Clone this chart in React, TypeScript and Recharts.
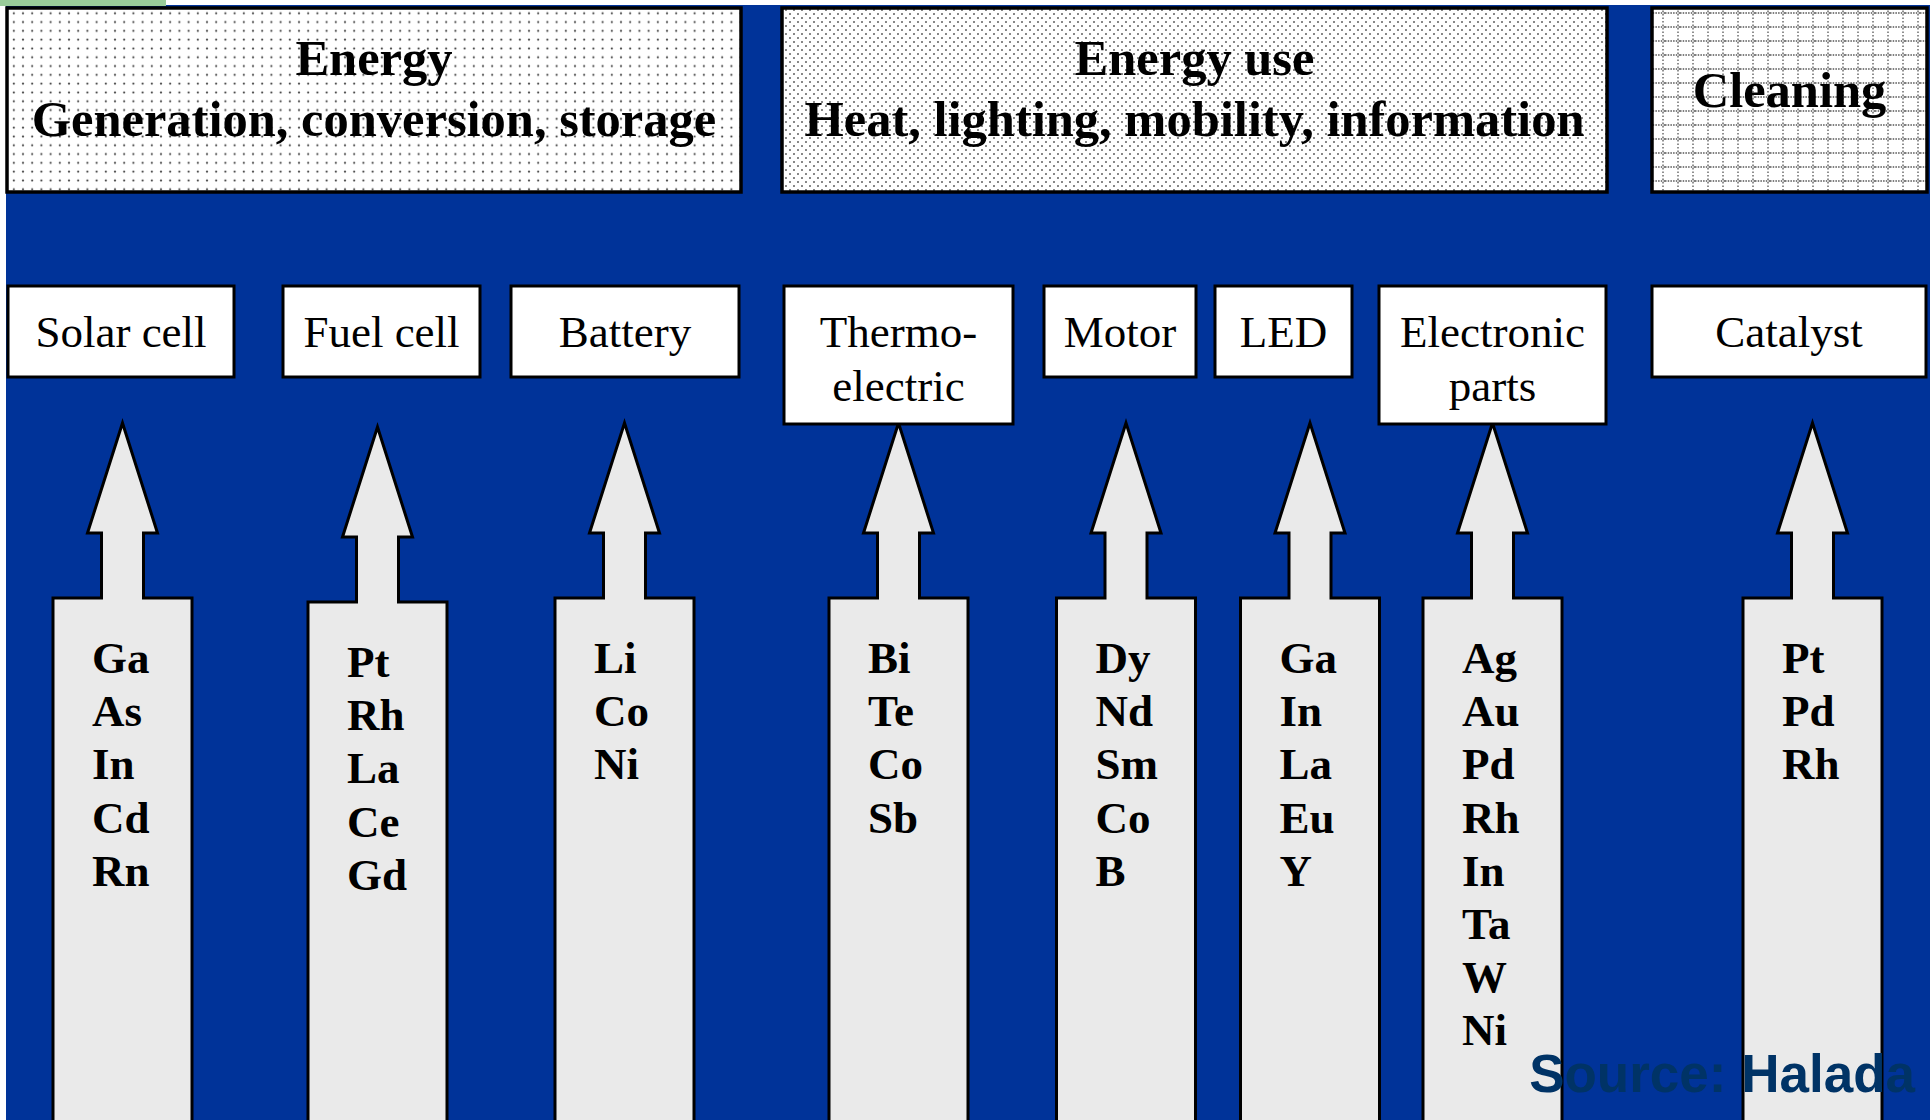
import React from 'react';
import { ScatterChart, Scatter, XAxis, YAxis, ReferenceArea } from 'recharts';

// ---------- data ----------
const groupTitles = ['Energy', 'Energy use', 'Cleaning'];
const groupSubtitles = ['Generation, conversion, storage', 'Heat, lighting, mobility, information', ''];

const applicationLabels: string[][] = [
  ['Solar cell'],
  ['Fuel cell'],
  ['Battery'],
  ['Thermo-', 'electric'],
  ['Motor'],
  ['LED'],
  ['Electronic', 'parts'],
  ['Catalyst'],
];

const applicationElements: string[][] = [
  ['Ga', 'As', 'In', 'Cd', 'Rn'],
  ['Pt', 'Rh', 'La', 'Ce', 'Gd'],
  ['Li', 'Co', 'Ni'],
  ['Bi', 'Te', 'Co', 'Sb'],
  ['Dy', 'Nd', 'Sm', 'Co', 'B'],
  ['Ga', 'In', 'La', 'Eu', 'Y'],
  ['Ag', 'Au', 'Pd', 'Rh', 'In', 'Ta', 'W', 'Ni'],
  ['Pt', 'Pd', 'Rh'],
];

const sourceText = 'Source: Halada';

// ---------- layout (chart units = pixels) ----------
const W = 1930;
const H = 1120;
const headerSpans = [[7, 741], [782, 1607], [1652, 1927]];
const headerTop = 8;
const headerBottom = 192;
const boxSpans = [[8, 234], [283, 480], [511, 739], [784, 1013], [1044, 1196], [1215, 1352], [1379, 1606], [1652, 1926]];
const boxTop = 286;
const columnCenters = [122.5, 377.5, 624.5, 898.5, 1126, 1310, 1492.5, 1812.5];
const arrowShift = [0, 4, 0, 0, 0, 0, 0, 0];
const arrowTip = 423;

const BLUE = '#003399';
const SERIF = '"Liberation Serif", "Times New Roman", serif';

const headerData = groupTitles.map((t, i) => ({
  x: headerSpans[i][0],
  y: headerTop,
  w: headerSpans[i][1] - headerSpans[i][0],
  h: headerBottom - headerTop,
  title: t,
  sub: groupSubtitles[i],
  idx: i,
}));

const boxData = applicationLabels.map((lines, i) => ({
  x: boxSpans[i][0],
  y: boxTop,
  w: boxSpans[i][1] - boxSpans[i][0],
  h: lines.length > 1 ? 138 : 91,
  lines,
}));

const arrowData = applicationElements.map((els, i) => ({
  x: columnCenters[i],
  y: arrowTip + arrowShift[i],
  els,
}));

const sourceData = [{ x: 1915, y: 1092, text: sourceText }];

const HeaderShape = (props: any) => {
  const { cx, cy, payload } = props;
  const { w, h, title, sub, idx } = payload;
  const pid = `hdrpat-${idx}`;
  const mid = cx + w / 2;
  return (
    <g>
      <defs>
        {idx === 0 && (
          <pattern id={pid} patternUnits="userSpaceOnUse" width={9.2} height={8.8}>
            <rect width={9.2} height={8.8} fill="#ffffff" />
            <circle cx={4.6} cy={4.4} r={1.1} fill="#444" />
          </pattern>
        )}
        {idx === 1 && (
          <pattern id={pid} patternUnits="userSpaceOnUse" width={8} height={8}>
            <rect width={8} height={8} fill="#ffffff" />
            <circle cx={2} cy={2} r={0.95} fill="#555" />
            <circle cx={6} cy={6} r={0.95} fill="#555" />
          </pattern>
        )}
        {idx === 2 && (
          <pattern id={pid} patternUnits="userSpaceOnUse" width={15} height={14}>
            <rect width={15} height={14} fill="#ffffff" />
            <line x1={0} y1={13} x2={15} y2={13} stroke="#555" strokeWidth={1.3} strokeDasharray="1.5 1.2" />
            <line x1={13} y1={0} x2={13} y2={14} stroke="#555" strokeWidth={1.3} strokeDasharray="1.5 2" />
          </pattern>
        )}
      </defs>
      <rect x={cx} y={cy} width={w} height={h} fill={`url(#${pid})`} stroke="#000" strokeWidth={3.5} />
      {sub ? (
        <>
          <text x={mid} y={cy + 67} textAnchor="middle" fontFamily={SERIF} fontWeight="bold" fontSize={50.5} fill="#000">
            {title}
          </text>
          <text x={mid} y={cy + 128} textAnchor="middle" fontFamily={SERIF} fontWeight="bold" fontSize={50.5} fill="#000">
            {sub}
          </text>
        </>
      ) : (
        <text x={mid} y={cy + 99} textAnchor="middle" fontFamily={SERIF} fontWeight="bold" fontSize={50.5} fill="#000">
          {title}
        </text>
      )}
    </g>
  );
};

const BoxShape = (props: any) => {
  const { cx, cy, payload } = props;
  const { w, h, lines } = payload;
  const mid = cx + w / 2;
  return (
    <g>
      <rect x={cx} y={cy} width={w} height={h} fill="#ffffff" stroke="#000" strokeWidth={3} />
      {lines.map((l: string, k: number) => (
        <text key={k} x={mid} y={cy + 61 + k * 54} textAnchor="middle" fontFamily={SERIF} fontSize={45} fill="#000">
          {l}
        </text>
      ))}
    </g>
  );
};

const ArrowShape = (props: any) => {
  const { cx, cy, payload } = props;
  const t = cy;
  const hw = 35;
  const sw = 21;
  const cw = 69.5;
  const headBase = t + 110;
  const shoulder = t + 175;
  const bottom = H + 10;
  const d = [
    `M ${cx} ${t}`,
    `L ${cx + hw} ${headBase}`,
    `L ${cx + sw} ${headBase}`,
    `L ${cx + sw} ${shoulder}`,
    `L ${cx + cw} ${shoulder}`,
    `L ${cx + cw} ${bottom}`,
    `L ${cx - cw} ${bottom}`,
    `L ${cx - cw} ${shoulder}`,
    `L ${cx - sw} ${shoulder}`,
    `L ${cx - sw} ${headBase}`,
    `L ${cx - hw} ${headBase}`,
    'Z',
  ].join(' ');
  return (
    <g>
      <path d={d} fill="#eaeaea" stroke="#000" strokeWidth={3} strokeLinejoin="miter" />
      {payload.els.map((e: string, k: number) => (
        <text key={k} x={cx - 30.5} y={t + 250 + k * 53.2} fontFamily={SERIF} fontWeight="bold" fontSize={45} fill="#000">
          {e}
        </text>
      ))}
    </g>
  );
};

const SourceShape = (props: any) => {
  const { cx, cy, payload } = props;
  return (
    <text x={cx} y={cy} textAnchor="end" fontFamily='"Liberation Sans", Arial, sans-serif' fontWeight="bold" fontSize={53} fill="#003366">
      {payload.text}
    </text>
  );
};

export default function App() {
  return (
    <div style={{ position: 'absolute', left: 0, top: 0, width: W, height: H, background: '#fff', overflow: 'hidden' }}>
      <ScatterChart width={W} height={H} margin={{ top: 0, right: 0, bottom: 0, left: 0 }}>
        <XAxis type="number" dataKey="x" domain={[0, W]} hide allowDataOverflow />
        <YAxis type="number" dataKey="y" domain={[0, H]} reversed hide allowDataOverflow />
        <ReferenceArea x1={6} x2={W} y1={5} y2={H} fill={BLUE} fillOpacity={1} stroke="none" ifOverflow="visible" />
        <ReferenceArea x1={0} x2={166} y1={0} y2={6} fill="#99cc99" fillOpacity={1} stroke="none" ifOverflow="visible" />
        <Scatter data={headerData} shape={HeaderShape} isAnimationActive={false} />
        <Scatter data={arrowData} shape={ArrowShape} isAnimationActive={false} />
        <Scatter data={boxData} shape={BoxShape} isAnimationActive={false} />
        <Scatter data={sourceData} shape={SourceShape} isAnimationActive={false} />
      </ScatterChart>
    </div>
  );
}
